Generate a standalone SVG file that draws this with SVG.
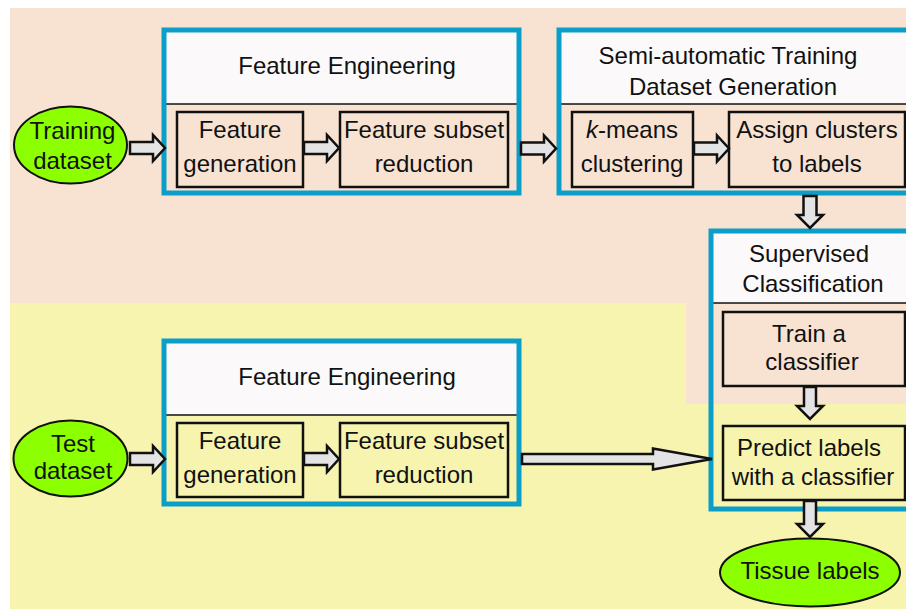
<svg xmlns="http://www.w3.org/2000/svg" width="906" height="609" viewBox="0 0 906 609">
<style>
text{font-family:"Liberation Sans",Arial,sans-serif;font-size:24px;fill:#111;text-anchor:middle}
.blue{fill:none;stroke:#0a9ec8;stroke-width:5}
.hdr{fill:#fbf9f9}
.div{stroke:#111;stroke-width:1.5}
.pb{fill:#f8e3d3;stroke:#111;stroke-width:2.5}
.yb{fill:#f7f4b0;stroke:#111;stroke-width:2.5}
.ell{fill:#8cff00;stroke:#111;stroke-width:2}
.arr{fill:#e4e4e4;stroke:#111;stroke-width:2.5;stroke-linejoin:miter}
</style>
<rect width="906" height="609" fill="#fff"/>
<path d="M10,8 H906 V404 H686 V303 H10 Z" fill="#f8e3d3"/>
<path d="M10,303 H686 V404 H906 V609 H10 Z" fill="#f7f4b0"/>

<g id="training-dataset">
<ellipse class="ell" cx="70.5" cy="145" rx="56.5" ry="38.5"/>
<text x="72.5" y="139">Training</text>
<text x="72.5" y="169">dataset</text>
</g>

<g id="fe-top">
<rect class="hdr" x="164" y="30" width="355" height="74"/>
<line class="div" x1="164" y1="104" x2="519" y2="104"/>
<rect class="blue" x="164" y="30" width="355" height="163"/>
<text x="347" y="74">Feature Engineering</text>
</g>
<g id="fg-top">
<rect class="pb" x="177" y="112" width="126" height="75"/>
<text x="240" y="138">Feature</text>
<text x="240" y="172">generation</text>
</g>
<g id="fsr-top">
<rect class="pb" x="340" y="112" width="168" height="75"/>
<text x="424" y="138">Feature subset</text>
<text x="424" y="172">reduction</text>
</g>

<g id="semi">
<rect class="hdr" x="559" y="30" width="360" height="74"/>
<line class="div" x1="559" y1="104" x2="906" y2="104"/>
<rect class="blue" x="559" y="30" width="360" height="163"/>
<text x="728" y="64">Semi-automatic Training</text>
<text x="733" y="95">Dataset Generation</text>
</g>
<g id="kmeans">
<rect class="pb" x="572" y="112" width="121" height="75"/>
<text x="632" y="138"><tspan font-style="italic">k</tspan>-means</text>
<text x="632" y="172">clustering</text>
</g>
<g id="assign">
<rect class="pb" x="729" y="112" width="176" height="75"/>
<text x="817" y="138">Assign clusters</text>
<text x="817" y="172">to labels</text>
</g>

<g id="supervised">
<rect class="hdr" x="711" y="231" width="210" height="72"/>
<line class="div" x1="711" y1="303" x2="906" y2="303"/>
<rect class="blue" x="711" y="231" width="210" height="278"/>
<text x="809" y="262">Supervised</text>
<text x="813" y="292">Classification</text>
</g>
<g id="train">
<rect class="pb" x="723" y="312" width="182" height="74"/>
<text x="809" y="342">Train a</text>
<text x="812" y="370">classifier</text>
</g>
<g id="predict">
<rect class="yb" x="723" y="426" width="182" height="74"/>
<text x="809" y="456">Predict labels</text>
<text x="813" y="485">with a classifier</text>
</g>
<g id="tissue">
<ellipse class="ell" cx="810" cy="572.5" rx="90" ry="34"/>
<text x="810" y="579">Tissue labels</text>
</g>

<g id="test-dataset">
<ellipse class="ell" cx="70.5" cy="458.5" rx="57" ry="38"/>
<text x="73" y="452">Test</text>
<text x="73" y="479">dataset</text>
</g>
<g id="fe-bottom">
<rect class="hdr" x="164" y="341" width="355" height="74"/>
<line class="div" x1="164" y1="415" x2="519" y2="415"/>
<rect class="blue" x="164" y="341" width="355" height="163"/>
<text x="347" y="385">Feature Engineering</text>
</g>
<g id="fg-bottom">
<rect class="yb" x="177" y="423" width="126" height="74"/>
<text x="240" y="449">Feature</text>
<text x="240" y="483">generation</text>
</g>
<g id="fsr-bottom">
<rect class="yb" x="340" y="423" width="168" height="74"/>
<text x="424" y="449">Feature subset</text>
<text x="424" y="483">reduction</text>
</g>

<g id="connectors">
<path class="arr" d="M130,142 H153 V135 L165,148 L153,161 V154 H130 Z"/>
<path class="arr" d="M304,142 H327 V135 L339,148 L327,161 V154 H304 Z"/>
<path class="arr" d="M521,142.5 H544 V135.5 L556,148.5 L544,161.5 V154.5 H521 Z"/>
<path class="arr" d="M694,142.5 H717 V135.5 L729,148.5 L717,161.5 V154.5 H694 Z"/>
<path class="arr" d="M803.5,196 V215 H797 L810,228 L823,215 H816.5 V196 Z"/>
<path class="arr" d="M804,387 V406 H797 L810,419 L823,406 H816 V387 Z"/>
<path class="arr" d="M804,501 V524 H797 L810,537 L823,524 H816 V501 Z"/>
<path class="arr" d="M130,453 H153 V446 L165,459 L153,472 V465 H130 Z"/>
<path class="arr" d="M304,453 H327 V446 L339,459 L327,472 V465 H304 Z"/>
<path class="arr" d="M522,454 H653 V448.5 L712,459 L653,469.5 V464 H522 Z"/>
</g>
</svg>
